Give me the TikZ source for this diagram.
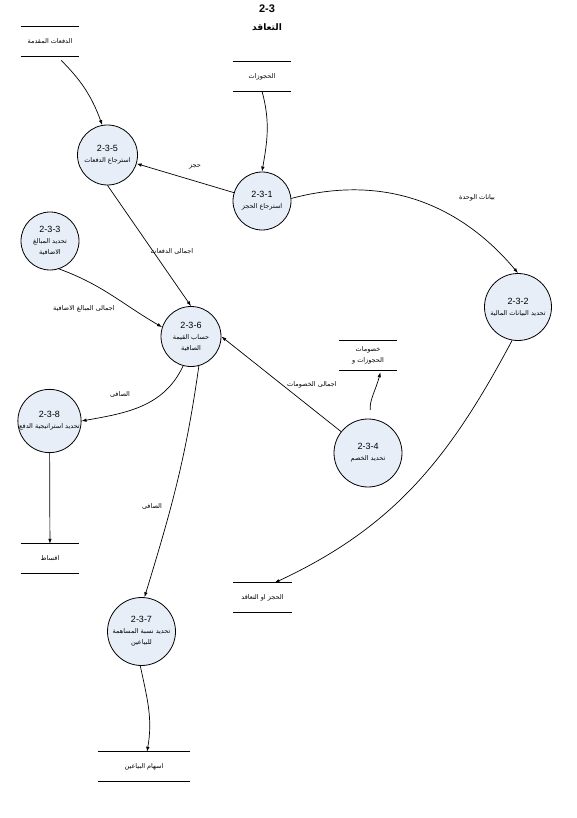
\documentclass[tikz,border=0pt]{standalone}
\usepackage{fontspec}
\setmainfont{Liberation Sans}
\newfontfamily\arabicfont[Script=Arabic]{DejaVu Sans}
\TeXXeTstate=1
\usetikzlibrary{arrows.meta,positioning,calc}
\definecolor{ProcBlue}{RGB}{232,238,248}
\newcommand{\arl}[1]{{\arabicfont\fontsize{6.5}{8}\selectfont\beginR #1\endR}}

\begin{document}
\begin{tikzpicture}[x=1pt, y=-1pt,
  every node/.style={font=\fontsize{9}{11}\selectfont},
  proc/.style={draw, circle, fill=ProcBlue, line width=0.8pt, align=center, inner sep=0pt},
  store/.style={minimum width=58pt, minimum height=29pt, inner sep=0pt, align=center},
  storeline/.style={line width=0.8pt},
  flow/.style={-{Latex[length=5pt,width=3.5pt]}, line width=0.7pt},
  lbl/.style={inner sep=1pt}]
\useasboundingbox (0,0) rectangle (576,818);

% title
\node[font=\bfseries\fontsize{11}{13}\selectfont] (ttl) at (267,9) {2-3};
\node[font=\bfseries\fontsize{9}{11}\selectfont] (ttlar) at (267,27) {\arabicfont\beginR التعاقد\endR};

% data stores
\node[store] (sadv) at (50,41.5) {\arl{الدفعات المقدمة}};
\node[store] (sres) at (262,76.5) {\arl{الحجوزات}};
\node[store] (sdisc) at (368,355.5) {\arl{خصومات}\\\arl{الحجوزات و}};
\node[store] (sinst) at (50,558.5) {\arl{اقساط}};
\node[store] (scon) at (262.5,597.5) {\arl{الحجز او التعاقد}};
\node[store, minimum width=92pt] (sshare) at (144,766.5) {\arl{اسهام البياعين}};
\foreach \s in {sadv,sres,sdisc,sinst,scon,sshare}
  \draw[storeline] (\s.north west) -- (\s.north east) (\s.south west) -- (\s.south east);

% processes
\node[proc, minimum size=60pt] (p5) at (107.5,155) {2-3-5\\\arl{استرجاع الدفعات}};
\node[proc, minimum size=58pt] (p1) at (262,201) {2-3-1\\\arl{استرجاع الحجز}};
\node[proc, minimum size=58pt] (p3) at (50,241) {2-3-3\\\arl{تحديد المبالغ}\\\arl{الاضافية}};
\node[proc, minimum size=60pt] (p6) at (191,336.5) {2-3-6\\\arl{حساب القيمة}\\\arl{الصافية}};
\node[proc, minimum size=67pt] (p2) at (518,307) {2-3-2\\\arl{تحديد البيانات المالية}};
\node[proc, minimum size=68pt] (p4) at (368,453) {2-3-4\\\arl{تحديد الخصم}};
\node[proc, minimum size=62pt] (p8) at (49.5,421) {2-3-8\\\arl{تحديد استراتيجية الدفع}};
\node[proc, minimum size=68pt] (p7) at (141.5,631.5) {2-3-7\\\arl{تحديد نسبة المساهمة}\\\arl{للبياعين}};

% flows
\draw[flow, shorten <=6pt] ([xshift=7pt]sadv.south) to[out=-45, in=110] (p5.100);
\draw[flow, shorten <=1pt] (sres.south) to[out=-75, in=80] (p1.north);
\draw[flow] (p1) -- (p5);
\draw[flow] (p1.5) to[out=15, in=130] (p2.north);
\draw[flow] (p5.south) -- (p6.north);
\draw[flow] (p3.-72) to[out=-20, in=150] (p6.162);
\draw[flow] (p4) -- (p6.east);
\draw[flow, shorten <=9pt] (p4.85) to[out=95, in=-105] ([xshift=12.5pt,yshift=-2pt]sdisc.south);
\draw[flow] (p6.-105) to[out=-115, in=10] (p8.east);
\draw[flow] (p6.-75) to[out=-98, in=73] (p7.85);
\draw[flow] (p8) -- (sinst);
\draw[flow] (p2.-100) to[out=-118, in=25] ([xshift=12pt]scon.north);
\draw[flow] (p7.-92) to[out=-78, in=80] ([xshift=3pt]sshare.north);

% flow labels
\node[lbl] (lhajz) at (195,167) {\arl{حجز}};
\node[lbl] (lbayan) at (477,198) {\arl{بيانات الوحدة}};
\node[lbl] (ldafa) at (172,252) {\arl{اجمالى الدفعات}};
\node[lbl] (lmabal) at (84,309) {\arl{اجمالى المبالغ الاضافية}};
\node[lbl] (lkhasm) at (312,385) {\arl{اجمالى الخصومات}};
\node[lbl] (lsafia) at (120,394) {\arl{الصافى}};
\node[lbl] (lsafib) at (152,506) {\arl{الصافى}};
\end{tikzpicture}
\end{document}
